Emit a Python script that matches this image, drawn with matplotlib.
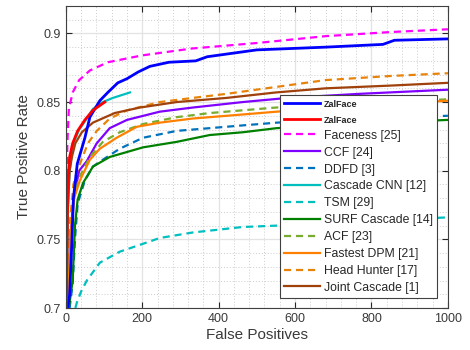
import matplotlib
matplotlib.use("Agg")
import matplotlib.pyplot as plt
from matplotlib.ticker import MultipleLocator

plt.rcParams['font.family'] = ['Liberation Sans', 'DejaVu Sans']

# %% ROC points ( false positives , true positive rate ) per detector

zal_blue_fp = [5, 10, 15, 20, 30, 50, 63, 89, 110, 136, 160, 190, 220, 270, 340, 370, 500, 680, 830, 860, 1000]
zal_blue_tp = [0.70, 0.71, 0.742, 0.78, 0.805, 0.824, 0.839, 0.851, 0.857, 0.864, 0.867, 0.872, 0.876, 0.879, 0.880, 0.883, 0.888, 0.890, 0.892, 0.895, 0.896]

zal_red_fp = [1, 3, 5, 10, 18, 31, 50, 71, 102]
zal_red_tp = [0.70, 0.75, 0.79, 0.81, 0.82, 0.829, 0.837, 0.844, 0.850]

faceness_fp = [0, 2, 4, 8, 18, 35, 63, 110, 200, 330, 500, 680, 850, 1000]
faceness_tp = [0.70, 0.76, 0.82, 0.845, 0.857, 0.866, 0.873, 0.879, 0.884, 0.889, 0.893, 0.898, 0.901, 0.903]

ccf_fp = [5, 12, 20, 35, 55, 81, 115, 160, 246, 332, 463, 580, 770, 1000]
ccf_tp = [0.70, 0.75, 0.78, 0.80, 0.807, 0.82, 0.831, 0.837, 0.843, 0.846, 0.850, 0.853, 0.856, 0.859]

ddfd_fp = [10, 18, 24, 31, 50, 71, 97, 141, 202, 290, 377, 463, 552, 750, 1000]
ddfd_tp = [0.70, 0.718, 0.75, 0.776, 0.793, 0.803, 0.808, 0.816, 0.824, 0.829, 0.831, 0.833, 0.835, 0.838, 0.840]

cnn_fp = [2, 5, 10, 20, 35, 55, 71, 97, 123, 168]
cnn_tp = [0.70, 0.77, 0.80, 0.82, 0.83, 0.838, 0.845, 0.850, 0.853, 0.857]

tsm_fp = [25, 29, 40, 55, 89, 141, 194, 246, 332, 463, 552, 750, 1000]
tsm_tp = [0.70, 0.704, 0.712, 0.720, 0.733, 0.741, 0.746, 0.751, 0.755, 0.759, 0.760, 0.763, 0.766]

surf_fp = [8, 18, 24, 31, 45, 71, 115, 202, 290, 377, 463, 552, 750, 1000]
surf_tp = [0.70, 0.72, 0.76, 0.779, 0.791, 0.803, 0.810, 0.817, 0.821, 0.826, 0.828, 0.831, 0.834, 0.837]

acf_fp = [5, 12, 20, 35, 63, 97, 141, 202, 290, 377, 463, 550, 750, 1000]
acf_tp = [0.70, 0.75, 0.78, 0.795, 0.810, 0.821, 0.828, 0.834, 0.839, 0.842, 0.844, 0.846, 0.849, 0.852]

dpm_fp = [5, 12, 22, 37, 63, 89, 133, 186, 246, 332, 421, 552, 750, 1000]
dpm_tp = [0.70, 0.75, 0.78, 0.793, 0.808, 0.816, 0.824, 0.832, 0.835, 0.838, 0.840, 0.843, 0.847, 0.851]

hh_fp = [4, 10, 20, 30, 44, 58, 81, 115, 160, 246, 332, 421, 550, 680, 850, 1000]
hh_tp = [0.70, 0.76, 0.79, 0.80, 0.81, 0.820, 0.829, 0.838, 0.844, 0.850, 0.853, 0.856, 0.861, 0.866, 0.869, 0.871]

joint_fp = [2, 5, 10, 16, 25, 42, 71, 128, 194, 290, 420, 550, 680, 850, 1000]
joint_tp = [0.70, 0.77, 0.80, 0.81, 0.82, 0.828, 0.835, 0.842, 0.846, 0.850, 0.853, 0.857, 0.860, 0.862, 0.864]

# %% figure

fig = plt.figure(figsize=(4.7, 3.5), dpi=100)
ax = fig.add_axes([0.140, 0.12, 0.813, 0.863])

dash = (0, (3.2, 2.2))
lw = 1.6

# ( x , y , colour , style , label ) -- drawn in this order, ZalFace last so it sits on top
curves = [
    (faceness_fp, faceness_tp, '#ff00ff', dash, 'Faceness [25]'),
    (ccf_fp, ccf_tp, '#7f00ff', '-', 'CCF [24]'),
    (ddfd_fp, ddfd_tp, '#0072bd', dash, 'DDFD [3]'),
    (cnn_fp, cnn_tp, '#00bfbf', '-', 'Cascade CNN [12]'),
    (tsm_fp, tsm_tp, '#00bfbf', dash, 'TSM [29]'),
    (surf_fp, surf_tp, '#008000', '-', 'SURF Cascade [14]'),
    (acf_fp, acf_tp, '#77ac30', dash, 'ACF [23]'),
    (dpm_fp, dpm_tp, '#ff8000', '-', 'Fastest DPM [21]'),
    (hh_fp, hh_tp, '#e8830a', dash, 'Head Hunter [17]'),
    (joint_fp, joint_tp, '#a0400a', '-', 'Joint Cascade [1]'),
]

handles = []
for x, y, c, ls, lab in curves:
    h, = ax.plot(x, y, color=c, linestyle=ls, lw=lw, label=lab)
    handles.append(h)

h_blue, = ax.plot(zal_blue_fp, zal_blue_tp, color='#0000ff', lw=2.0, label='ZalFace')
h_red, = ax.plot(zal_red_fp, zal_red_tp, color='#ff0000', lw=2.0, label='ZalFace')
handles = [h_blue, h_red] + handles

# %% axes , matlab-ish look

ax.set_xlim(0, 1000)
ax.set_ylim(0.7, 0.92)
ax.xaxis.set_major_locator(MultipleLocator(200))
ax.xaxis.set_minor_locator(MultipleLocator(40))
ax.yaxis.set_major_locator(MultipleLocator(0.05))
ax.yaxis.set_minor_locator(MultipleLocator(0.01))
ax.set_yticks([0.7, 0.75, 0.8, 0.85, 0.9])
ax.set_yticklabels(['0.7', '0.75', '0.8', '0.85', '0.9'])

ax.grid(which='major', color='#e3e3e3', lw=0.9, linestyle='-')
ax.grid(which='minor', color='#cccccc', lw=0.7, linestyle=(0, (1, 2)))
ax.set_axisbelow(True)

ax.tick_params(which='both', direction='in', top=True, right=True,
               color='#262626', labelcolor='#3a3a3a', labelsize=9)
ax.tick_params(which='major', length=4)
ax.tick_params(which='minor', length=0)
for s in ax.spines.values():
    s.set_color('#404040')
    s.set_linewidth(0.8)

ax.set_xlabel('False Positives', fontsize=11, color='#3a3a3a', labelpad=2)
ax.set_ylabel('True Positive Rate', fontsize=11, color='#3a3a3a', labelpad=4)

# %% legend

leg = ax.legend(handles=handles, loc='lower right', bbox_to_anchor=(0.971, 0.033),
                fontsize=8.8, labelspacing=0.40, handlelength=3.0, handletextpad=0.25,
                borderpad=0.35, borderaxespad=0, fancybox=False, framealpha=1,
                edgecolor='#404040')
leg.get_frame().set_linewidth(0.8)
for t in leg.get_texts():
    t.set_color('#262626')
for t in leg.get_texts()[:2]:
    t.set_fontsize(6.5)
    t.set_fontweight('bold')

fig.savefig('out.png', dpi=100)
